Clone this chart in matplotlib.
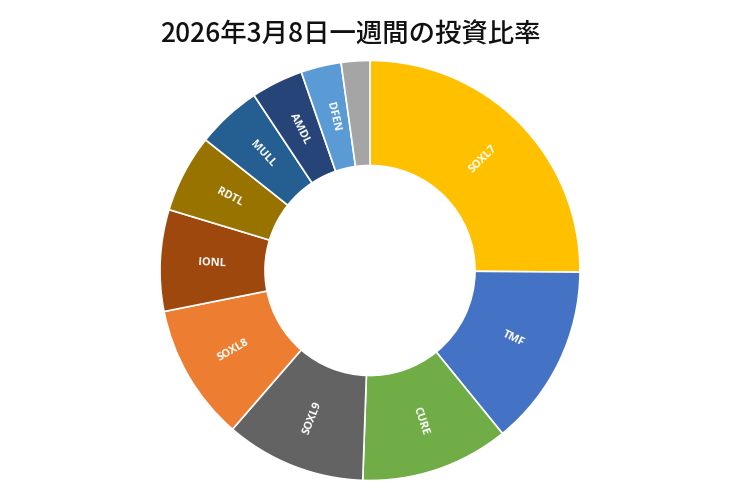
import matplotlib
matplotlib.use("Agg")
import matplotlib.pyplot as plt
import numpy as np

labels = ["SOXL7", "TMF", "CURE", "SOXL9", "SOXL8", "IONL", "RDTL", "MULL", "AMDL", "DFEN", ""]
values = [25.1, 14.0, 11.4, 10.8, 10.5, 7.8, 6.0, 5.0, 4.0, 3.1, 2.2]
colors = ["#FFC000", "#4472C4", "#70AD47", "#636363", "#ED7D31", "#9E480E",
          "#997300", "#255E91", "#264478", "#5B9BD5", "#A5A5A5"]
title = "2026年3月8日一週間の投資比率"

fig = plt.figure(figsize=(7.4, 4.93), dpi=100)
ax = fig.add_axes([160/740, 12.5/493, 420/740, 420/493])
wedges, _ = ax.pie(values, colors=colors, startangle=90, counterclock=False,
                   radius=1.0, wedgeprops=dict(width=0.5, edgecolor="white", linewidth=1.2))
ax.set_xlim(-1, 1)
ax.set_ylim(-1, 1)
ax.set_aspect("equal")
ax.axis("off")

for w, lab in zip(wedges, labels):
    if not lab:
        continue
    mid = (w.theta1 + w.theta2) / 2.0
    r = 0.755
    x = r * np.cos(np.deg2rad(mid))
    y = r * np.sin(np.deg2rad(mid))
    rot = ((mid + 180) % 360) - 180
    if rot > 90:
        rot -= 180
    elif rot < -90:
        rot += 180
    ax.text(x, y, lab, ha="center", va="center", rotation=rot, rotation_mode="anchor",
            color="white", fontsize=8, fontweight="bold", family=["Open Sans", "DejaVu Sans"])

fig.text(350/740, 1 - 35/493, title, ha="center", va="center", fontsize=19,
         fontweight="medium", family=["Noto Sans CJK JP", "DejaVu Sans"], color="#111111")

fig.savefig("out.png", dpi=100)
